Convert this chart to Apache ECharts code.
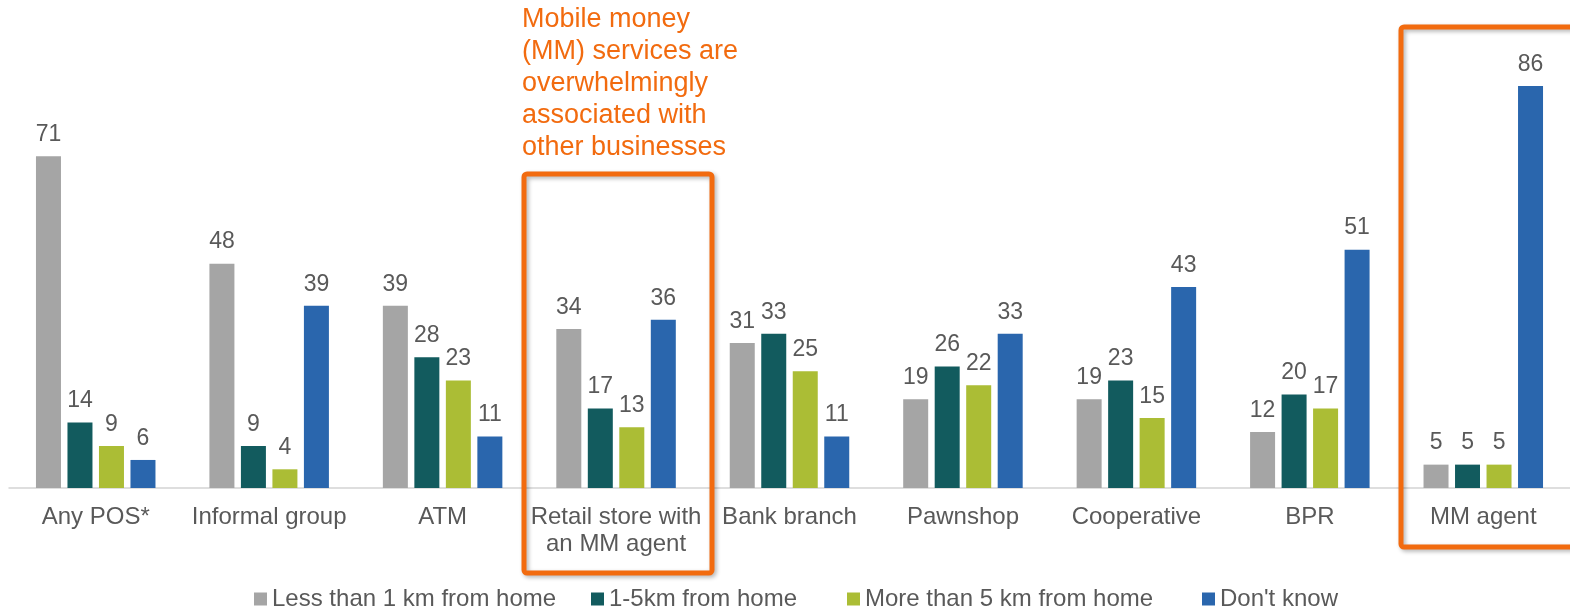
<!DOCTYPE html>
<html>
<head>
<meta charset="utf-8">
<script src="https://cdn.jsdelivr.net/npm/echarts@6/dist/echarts.min.js"></script>
<style>
  html, body { margin: 0; padding: 0; background: #fff; }
  #chart { width: 1570px; height: 607px; }
</style>
</head>
<body>
<div id="chart"></div>
<script>
// distance to nearest point of service, % of respondents
const categories = ['Any POS*', 'Informal group', 'ATM', 'Retail store with\nan MM agent', 'Bank branch', 'Pawnshop', 'Cooperative', 'BPR', 'MM agent'];
const seriesNames = ['Less than 1 km from home', '1-5km from home', 'More than 5 km from home', "Don't know"];
const lessThan1km = [71, 48, 39, 34, 31, 19, 19, 12, 5];
const from1to5km = [14, 9, 28, 17, 33, 26, 23, 20, 5];
const moreThan5km = [9, 4, 23, 13, 25, 22, 15, 17, 5];
const dontKnow = [6, 39, 11, 36, 11, 33, 43, 51, 86];

const colors = ['#a5a5a5', '#125b5e', '#abbd35', '#2a66ad'];
const font = "'Liberation Sans', Arial, sans-serif";
const textGrey = '#595959';
const orange = '#f26b0f';

const chart = echarts.init(document.getElementById('chart'));

const mkSeries = (name, data, color) => ({
	name,
	type: 'bar',
	data,
	barWidth: 25,
	barGap: '26%',
	itemStyle: { color },
	label: {
		show: true,
		position: 'top',
		distance: 10,
		color: textGrey,
		fontSize: 23,
		fontFamily: font,
	},
});

// one legend per item so the spacing follows the original
const legendLefts = [254, 591, 847, 1202];
const legend = seriesNames.map((n, i) => ({
	data: [n],
	left: legendLefts[i],
	top: 587,
	padding: 0,
	itemWidth: 13,
	itemHeight: 13,
	itemGap: 0,
	icon: 'rect',
	textStyle: { color: textGrey, fontSize: 24, fontFamily: font },
}));

const boxStyle = {
	fill: 'none',
	stroke: orange,
	lineWidth: 5,
	shadowBlur: 4,
	shadowColor: 'rgba(0,0,0,0.3)',
	shadowOffsetX: 2,
	shadowOffsetY: 2,
};

chart.setOption({
	backgroundColor: '#fff',
	animation: false,
	legend,
	grid: { left: 9, right: -2, top: 20.6, bottom: 119 },
	xAxis: {
		type: 'category',
		data: categories,
		axisTick: { show: false },
		axisLine: { lineStyle: { color: '#d4d4d4', width: 1.5 } },
		axisLabel: {
			interval: 0,
			margin: 16,
			color: textGrey,
			fontSize: 24,
			lineHeight: 27,
			fontFamily: font,
		},
	},
	yAxis: {
		type: 'value',
		min: 0,
		max: 100,
		show: false,
		splitLine: { show: false },
	},
	series: [
		mkSeries(seriesNames[0], lessThan1km, colors[0]),
		mkSeries(seriesNames[1], from1to5km, colors[1]),
		mkSeries(seriesNames[2], moreThan5km, colors[2]),
		mkSeries(seriesNames[3], dontKnow, colors[3]),
	],
	graphic: [
		{
			type: 'text',
			left: 522,
			top: 4,
			style: {
				text: 'Mobile money\n(MM) services are\noverwhelmingly\nassociated with\nother businesses',
				fill: orange,
				font: '27px ' + font,
				lineHeight: 32,
			},
		},
		{
			type: 'rect',
			shape: { x: 524, y: 174, width: 188, height: 399, r: 3 },
			style: boxStyle,
			z: 10,
		},
		{
			type: 'rect',
			shape: { x: 1401, y: 27, width: 220, height: 520, r: 3 },
			style: boxStyle,
			z: 10,
		},
	],
});
</script>
</body>
</html>
